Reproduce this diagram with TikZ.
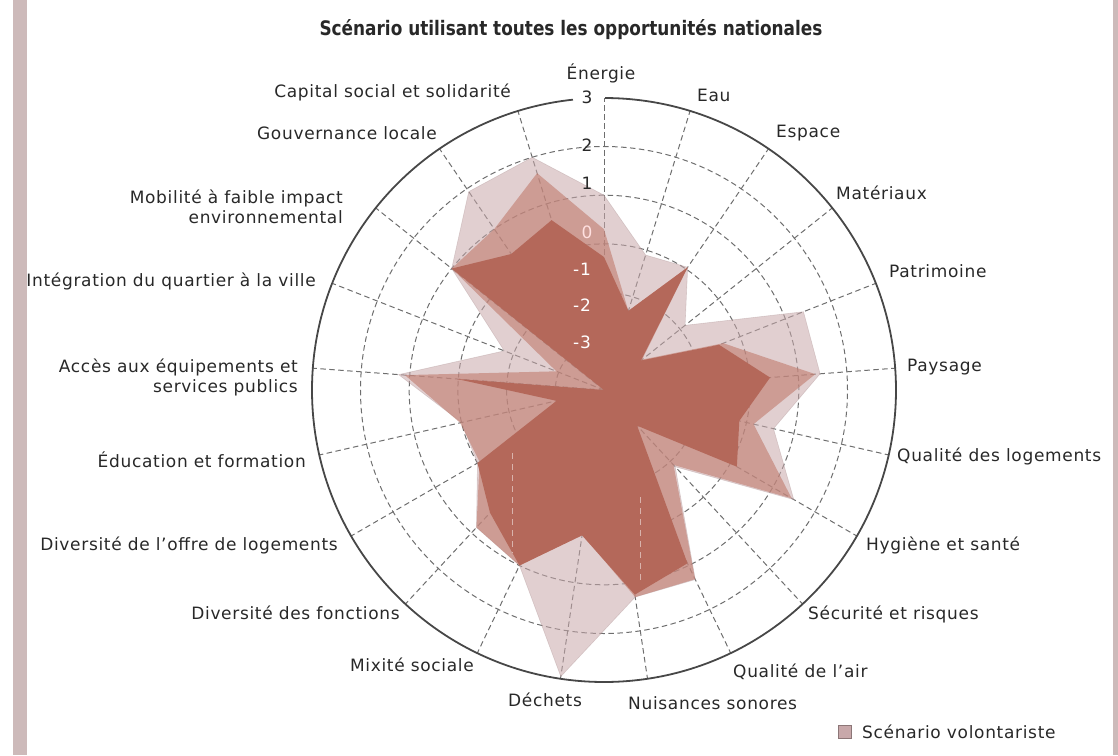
\documentclass[tikz,border=0pt]{standalone}
\usepackage{fontspec}
\setmainfont[LetterSpace=4]{DejaVu Sans}
\newfontfamily\titlefont[FakeStretch=0.845]{DejaVu Sans}
\usetikzlibrary{calc}

\definecolor{barpink}{RGB}{205,186,186}
\definecolor{lightpoly}{RGB}{200,168,170}
\definecolor{midpoly}{RGB}{192,122,108}
\definecolor{darkpoly}{RGB}{180,104,90}
\definecolor{gridgray}{RGB}{110,110,110}
\definecolor{labelgray}{RGB}{40,40,40}

\begin{document}
\begin{tikzpicture}[x=1pt, y=1pt,             % 1pt = 1px
                    font=\fontsize{17}{20}\selectfont,
                    text=labelgray,
                    gridline/.style={gridgray, line width=1pt, dash pattern=on 5.5pt off 3.5pt},
                    outerring/.style={black!72, line width=1.8pt},
                    scenlight/.style={fill=lightpoly, fill opacity=0.55, draw=lightpoly!85!black, draw opacity=0.35, line width=0.6pt},
                    scenmid/.style={fill=midpoly, fill opacity=0.6},
                    scendark/.style={fill=darkpoly},
                    lab/.style={inner sep=0pt},
                    tick/.style={inner sep=0pt}
                    ]

\useasboundingbox (-604,-365) rectangle (514,390);

% side bars
\fill[barpink] (-591,-365) rectangle (-577,390);
\fill[barpink] (509,-365) rectangle (514,390);

\coordinate (O) at (0,0);
\def\ring{48.7}

% rings
\foreach \k in {1,...,5}
  \draw[gridline] (O) circle[radius=\k*\ring];

% axes
\foreach \i in {0,...,20} {
  \coordinate (A\i) at ({90-\i*360/21}:292);
  \draw[gridline] (O) -- (A\i);
}

% Scenario volontariste
\foreach \v [count=\i from 0] in {4.0,2.9,3.05,2.13,4.4,4.45,3.57,4.5,2.15,4.32,4.3,5.95,4.0,3.85,3.0,3.0,4.23,2.2,4.0,4.93,5.0}
  \coordinate (L\i) at ({90-\i*360/21}:{\v*\ring});
\fill[scenlight] (L0) \foreach \i in {1,...,20} {-- (L\i)} -- cycle;

% intermediate scenario
\foreach \v [count=\i from 0] in {3.3,1.7,3.05,1.0,2.63,4.35,3.15,4.45,2.1,4.31,4.3,3.0,4.0,3.85,2.95,3.03,4.1,1.05,4.0,4.0,4.66}
  \coordinate (M\i) at ({90-\i*360/21}:{\v*\ring});
\fill[scenmid] (M0) \foreach \i in {1,...,20} {-- (M\i)} -- cycle;

% reference scenario
\foreach \v [count=\i from 0] in {2.73,1.7,3.05,0.97,2.54,3.42,2.85,3.15,1.0,3.95,4.25,3.02,4.0,3.44,3.0,1.0,3.03,0.0,4.0,3.38,3.65}
  \coordinate (D\i) at ({90-\i*360/21}:{\v*\ring});
\fill[scendark] (D0) \foreach \i in {1,...,20} {-- (D\i)} -- cycle;

% faint dashes on the dark area
\coordinate (w1) at (-91,-63);  \coordinate (w2) at (-91,-163);
\coordinate (w3) at (36,-107);  \coordinate (w4) at (36,-190);
\draw[white, opacity=0.5, line width=1pt, dash pattern=on 6pt off 5pt] (w1) -- (w2);
\draw[white, opacity=0.5, line width=1pt, dash pattern=on 6pt off 5pt] (w3) -- (w4);

% outer circle, open behind the "3"
\draw[outerring] (89.8:292) arc[start angle=89.8, end angle=-263.9, radius=292];

% scale
\node[tick] (t3) at (-17,293) {3};
\node[tick] (t2) at (-17,245) {2};
\node[tick] (t1) at (-17,207) {1};
\node[tick, text=white!88!red] (t0) at (-17,158) {0};
\node[tick, text=white] (tm1) at (-22,121) {-1};
\node[tick, text=white] (tm2) at (-22,85) {-2};
\node[tick, text=white] (tm3) at (-22,48) {-3};

% axis labels, right side
\node[lab] (energie) at (-3,317) {Énergie};
\node[lab, anchor=west] (eau) at (93,295) {Eau};
\node[lab, anchor=west] (espace) at (172,257) {Espace};
\node[lab, anchor=west] (materiaux) at (232,197) {Matériaux};
\node[lab, anchor=west] (patrimoine) at (285,119) {Patrimoine};
\node[lab, anchor=west] (paysage) at (303,23) {Paysage};
\node[lab, anchor=west] (logements) at (293,-66) {Qualité des logements};
\node[lab, anchor=west] (hygiene) at (262,-155) {Hygiène et santé};
\node[lab, anchor=west] (securite) at (204,-224) {Sécurité et risques};
\node[lab, anchor=west] (air) at (129,-282) {Qualité de l'air};
\node[lab, anchor=west] (nuisances) at (24,-313) {Nuisances sonores};

% axis labels, left side
\node[lab] (dechets) at (-59,-310) {Déchets};
\node[lab, anchor=east] (mixite) at (-130,-275) {Mixité sociale};
\node[lab, anchor=east] (fonctions) at (-204,-223) {Diversité des fonctions};
\node[lab, anchor=east] (offre) at (-266,-155) {Diversité de l'offre de logements};
\node[lab, anchor=east] (education) at (-298,-70) {Éducation et formation};
\node[lab, anchor=east, align=right] (acces) at (-306,13) {Accès aux équipements et\\services publics};
\node[lab, anchor=east] (integration) at (-288,109) {Intégration du quartier à la ville};
\node[lab, anchor=east, align=right] (mobilite) at (-261,183) {Mobilité à faible impact\\environnemental};
\node[lab, anchor=east] (gouvernance) at (-167,257) {Gouvernance locale};
\node[lab, anchor=east] (capital) at (-93,298) {Capital social et solidarité};

% title
\node[lab, font=\titlefont\bfseries\fontsize{20}{23}\selectfont] (titre) at (-33,360) {Scénario utilisant toutes les opportunités nationales};

% legend
\node[fill=lightpoly, draw=lightpoly!70!black, line width=0.5pt, minimum size=13pt, inner sep=0pt] (swatch) at (241,-342) {};
\node[lab, anchor=west] (legende) at (258,-342) {Scénario volontariste};

\end{tikzpicture}
\end{document}
